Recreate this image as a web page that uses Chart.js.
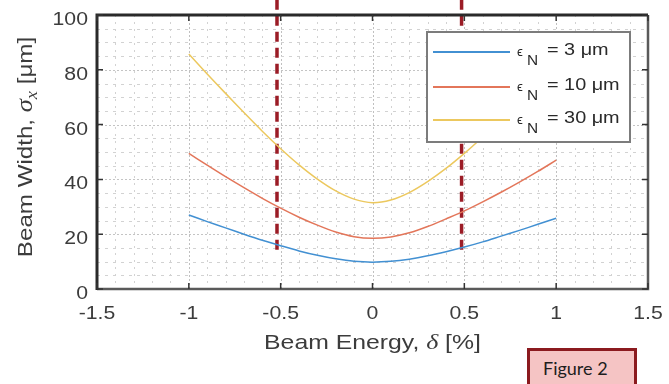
<!DOCTYPE html>
<html lang="en">
<head>
  <meta charset="UTF-8" />
  <title>Beam Width vs Beam Energy</title>
  <script src="https://cdn.jsdelivr.net/npm/chart.js"></script>
  <style>
    body {
      margin: 0;
      padding: 0;
      background: #fff;
      overflow: hidden;
    }

    #wrap {
      position: relative;
      width: 669px;
      height: 384px;
    }

    .fig-tag {
      position: absolute;
      left: 527px;
      top: 348px;
      width: 110px;
      height: 40px;
      box-sizing: border-box;
      border: 3px solid #8b1a1f;
      background: #f5c4c4;
      font-family: 'Lato', sans-serif;
      font-size: 18px;
      color: #1e1e1e;
      padding: 6px 0 0 13px;
    }
  </style>
</head>
<body>

  <div id="wrap">
    <canvas id="beamChart"></canvas>
    <div class="fig-tag">Figure 2</div>
  </div>

  <script>
    // energy offset delta [%]
    const deltas = [-1, -0.9, -0.8, -0.7, -0.6, -0.5, -0.4, -0.3, -0.2, -0.1, 0,
                    0.1, 0.2, 0.3, 0.4, 0.5, 0.6, 0.7, 0.8, 0.9, 1];

    // beam width sigma_x [um]
    const width3 = [27, 24.6, 22.3, 20, 17.8, 15.8, 13.9, 12.3, 11, 10.1, 9.8,
                    10.1, 10.9, 12.1, 13.6, 15.3, 17.2, 19.3, 21.4, 23.6, 25.8];
    const width10 = [49.5, 45.2, 41, 37, 33.1, 29.5, 26.2, 23.3, 20.8, 19.1, 18.5,
                     19, 20.5, 22.8, 25.6, 28.5, 31.8, 35.3, 39, 42.9, 47];
    const width30 = [85.8, 78.5, 71.4, 64.4, 57.6, 51.2, 45.3, 40.1, 35.8, 32.8, 31.5,
                     32.5, 35.2, 39.2, 44, 49.5, 55.5, 61.8, 68.3, 75, 82];

    const seriesNames = ['3 μm', '10 μm', '30 μm'];
    const seriesColors = ['#4290d2', '#e3765a', '#ecc85e'];

    // dashed acceptance markers
    const cutDeltas = [-0.52, 0.485];
    const cutRange = [14.3, 110];

    const xTickLabels = [-1.5, -1, -0.5, 0, 0.5, 1, 1.5];
    const yTickLabels = [0, 20, 40, 60, 80, 100];

    const isXMajor = v => xTickLabels.some(t => Math.abs(t - v) < 1e-6);
    const isYMajor = v => yTickLabels.some(t => Math.abs(t - v) < 1e-6);

    const toPoints = arr => arr.map((v, i) => ({ x: deltas[i], y: v }));

    const datasets = [
      { label: seriesNames[0], data: toPoints(width3), borderColor: seriesColors[0] },
      { label: seriesNames[1], data: toPoints(width10), borderColor: seriesColors[1] },
      { label: seriesNames[2], data: toPoints(width30), borderColor: seriesColors[2] }
    ].map(d => Object.assign(d, { borderWidth: 1.5, pointRadius: 0, tension: 0.3, fill: false }));

    cutDeltas.forEach(c => {
      datasets.push({
        label: 'cut',
        data: cutRange.map(v => ({ x: c, y: v })),
        borderColor: '#9b1c26',
        borderWidth: 3.5,
        borderDash: [10, 6],
        pointRadius: 0,
        clip: false
      });
    });

    const SANS = '"Liberation Sans", Arial, sans-serif';
    const SERIF = '"Liberation Serif", "Times New Roman", serif';

    // the original figure is stretched sideways, so text is widened a bit
    function drawRuns(ctx, runs, align, sx) {
      let total = 0;
      runs.forEach(r => { ctx.font = r.font; r.w = ctx.measureText(r.text).width; total += r.w; });
      ctx.save();
      ctx.scale(sx, 1);
      let x = align === 'right' ? -total : align === 'left' ? 0 : -total / 2;
      ctx.textBaseline = 'middle';
      ctx.textAlign = 'left';
      runs.forEach(r => {
        ctx.font = r.font;
        ctx.fillText(r.text, x, r.dy || 0);
        x += r.w;
      });
      ctx.restore();
    }

    function textAt(ctx, x, y, runs, align, sx) {
      ctx.save();
      ctx.translate(x, y);
      drawRuns(ctx, runs, align, sx);
      ctx.restore();
    }

    const framePlugin = {
      id: 'frame',
      beforeDatasetsDraw(chart) {
        const { ctx, chartArea: a, scales: { x, y } } = chart;
        ctx.save();
        ctx.lineWidth = 1;
        x.ticks.forEach(t => {
          const px = Math.round(x.getPixelForValue(t.value)) + 0.5;
          const major = isXMajor(t.value);
          ctx.strokeStyle = major ? '#c0c0c0' : '#d2d2d2';
          ctx.setLineDash(major ? [2, 2] : [2, 5]);
          ctx.beginPath();
          ctx.moveTo(px, a.top);
          ctx.lineTo(px, a.bottom);
          ctx.stroke();
        });
        y.ticks.forEach(t => {
          const py = Math.round(y.getPixelForValue(t.value)) + 0.5;
          const major = isYMajor(t.value);
          ctx.strokeStyle = major ? '#c4c4c4' : '#d2d2d2';
          ctx.setLineDash(major ? [2, 2] : [3, 5]);
          ctx.beginPath();
          ctx.moveTo(a.left, py);
          ctx.lineTo(a.right, py);
          ctx.stroke();
        });
        ctx.restore();
      },
      afterDatasetsDraw(chart) {
        const { ctx, chartArea: a, scales: { x, y } } = chart;
        ctx.save();

        // axes box
        ctx.setLineDash([]);
        ctx.strokeStyle = '#5a5a5a';
        ctx.lineWidth = 2.5;
        ctx.beginPath();
        ctx.moveTo(a.left, a.bottom);
        ctx.lineTo(a.right, a.bottom);
        ctx.lineTo(a.right, a.top);
        ctx.stroke();
        ctx.strokeStyle = '#2a2a2a';
        ctx.lineWidth = 3;
        ctx.beginPath();
        ctx.moveTo(a.left, a.bottom + 1);
        ctx.lineTo(a.left, a.top);
        ctx.lineTo(a.right, a.top);
        ctx.stroke();

        // inward ticks
        ctx.lineWidth = 1.5;
        ctx.strokeStyle = '#333';
        xTickLabels.forEach(v => {
          const px = x.getPixelForValue(v);
          ctx.beginPath();
          ctx.moveTo(px, a.bottom); ctx.lineTo(px, a.bottom - 6);
          ctx.moveTo(px, a.top); ctx.lineTo(px, a.top + 6);
          ctx.stroke();
        });
        yTickLabels.forEach(v => {
          const py = y.getPixelForValue(v);
          ctx.beginPath();
          ctx.moveTo(a.left, py); ctx.lineTo(a.left + 6, py);
          ctx.moveTo(a.right, py); ctx.lineTo(a.right - 6, py);
          ctx.stroke();
        });

        // tick labels
        ctx.fillStyle = '#3c3c3c';
        xTickLabels.forEach(v => {
          textAt(ctx, x.getPixelForValue(v), a.bottom + 25,
            [{ text: String(v), font: '18px ' + SANS }], 'center', 1.18);
        });
        yTickLabels.forEach(v => {
          textAt(ctx, a.left - 9, y.getPixelForValue(v) + 5,
            [{ text: String(v), font: '18px ' + SANS }], 'right', 1.18);
        });

        // legend
        const lx = a.right - 221, ly = a.top + 17, lw = 203, lh = 110;
        ctx.fillStyle = '#fff';
        ctx.fillRect(lx, ly, lw, lh);
        ctx.strokeStyle = '#7c7c7c';
        ctx.lineWidth = 2;
        ctx.strokeRect(lx, ly, lw, lh);
        const rows = [ly + 20, ly + 55, ly + 88];
        seriesNames.forEach((name, i) => {
          const ry = rows[i];
          ctx.strokeStyle = seriesColors[i];
          ctx.lineWidth = 1.8;
          ctx.beginPath();
          ctx.moveTo(lx + 6, ry);
          ctx.lineTo(lx + 83, ry);
          ctx.stroke();
          ctx.fillStyle = '#2a2a2a';
          textAt(ctx, lx + 90, ry + 1, [{ text: 'ϵ', font: '12px ' + SANS }], 'left', 1.1);
          textAt(ctx, lx + 100, ry + 9, [{ text: 'N', font: '14px ' + SANS }], 'left', 1.1);
          textAt(ctx, lx + 120, ry - 1.5, [{ text: '= ' + name, font: '16px ' + SANS }], 'left', 1.24);
        });

        // axis titles
        ctx.fillStyle = '#3c3c3c';
        textAt(ctx, (a.left + a.right) / 2, a.bottom + 54, [
          { text: 'Beam Energy, ', font: '21px ' + SANS },
          { text: 'δ', font: 'italic 22px ' + SERIF },
          { text: ' [%]', font: '21px ' + SANS }
        ], 'center', 1.18);

        ctx.save();
        ctx.translate(26, 147);
        ctx.rotate(-Math.PI / 2);
        drawRuns(ctx, [
          { text: 'Beam Width, ', font: '21px ' + SANS },
          { text: 'σ', font: 'italic 23px ' + SERIF },
          { text: 'x', font: 'italic 16px ' + SERIF, dy: 7 },
          { text: ' [μm]', font: '21px ' + SANS }
        ], 'center', 1.15);
        ctx.restore();

        ctx.restore();
      }
    };

    const ctx = document.getElementById('beamChart').getContext('2d');
    new Chart(ctx, {
      type: 'line',
      data: { datasets: datasets },
      options: {
        responsive: true,
        maintainAspectRatio: false,
        animation: false,
        layout: { padding: { top: 15, right: 21, left: 0, bottom: 0 } },
        plugins: {
          legend: { display: false },
          tooltip: { enabled: false }
        },
        scales: {
          x: {
            type: 'linear',
            min: -1.5,
            max: 1.5,
            afterFit: s => { s.height = 95; s.paddingLeft = 0; s.paddingRight = 0; },
            grid: { display: false, drawTicks: false },
            border: { display: false },
            ticks: { display: false, stepSize: 0.1, autoSkip: false }
          },
          y: {
            min: 0,
            max: 100,
            afterFit: s => { s.width = 97; s.paddingTop = 0; s.paddingBottom = 0; },
            grid: { display: false, drawTicks: false },
            border: { display: false },
            ticks: { display: false, stepSize: 5, autoSkip: false }
          }
        }
      },
      plugins: [framePlugin]
    });
  </script>
</body>
</html>
